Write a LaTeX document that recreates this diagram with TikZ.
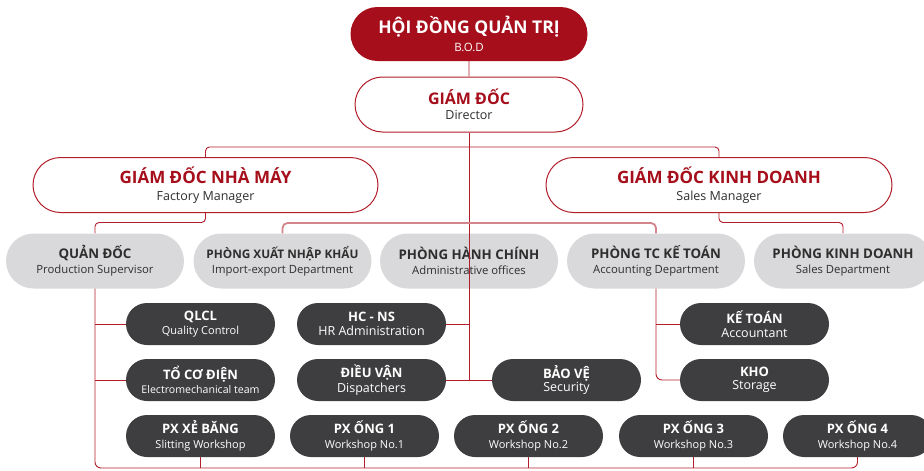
\documentclass[tikz,border=0pt]{standalone}
\usepackage{fontspec}
\setmainfont{Open Sans}
\usetikzlibrary{shapes.misc}

\definecolor{bodred}{HTML}{A50E1A}
\definecolor{linered}{HTML}{B21F2B}
\definecolor{softred}{HTML}{D3858B}
\definecolor{deptgray}{HTML}{D9D9DB}
\definecolor{unitdark}{HTML}{3E3D3F}
\definecolor{inkgray}{HTML}{2E2E2E}

\newcommand{\twoline}[5]{{\fontsize{#1}{#1}\selectfont\bfseries #3}\\[#5]{\fontsize{#2}{#2}\selectfont #4}}

\tikzset{
  pill/.style={rounded rectangle, inner sep=0pt, align=center},
  bodbox/.style={pill, fill=bodred, text=white, minimum width=237pt, minimum height=54pt},
  mgrbox/.style={pill, draw=linered, line width=1pt, fill=white, text=inkgray, minimum height=55pt},
  deptbox/.style={pill, fill=deptgray, text=inkgray, minimum width=178pt, minimum height=55pt},
  unitbox/.style={pill, fill=unitdark, text=white, minimum width=149pt, minimum height=42pt},
  link/.style={draw=linered, line width=0.9pt},
  softlink/.style={draw=softred, line width=1.8pt}
}

\begin{document}
\begin{tikzpicture}[x=1pt, y=-1pt]
  \useasboundingbox (0,0) rectangle (924,471);

  % board and directors
  \node[bodbox] (bod) at (469,34) {\twoline{17.5}{11.5}{HỘI ĐỒNG QUẢN TRỊ}{B.O.D}{5.5pt}};
  \node[mgrbox, minimum width=228pt] (dir) at (469,104.5) {\twoline{16}{12.5}{\textcolor{bodred}{GIÁM ĐỐC}}{Director}{3pt}};
  \node[mgrbox, minimum width=345pt] (fm) at (205.5,185) {\twoline{17}{12.5}{\textcolor{bodred}{GIÁM ĐỐC NHÀ MÁY}}{Factory Manager}{5.5pt}};
  \node[mgrbox, minimum width=346pt] (sm) at (719,185) {\twoline{17}{12.5}{\textcolor{bodred}{GIÁM ĐỐC KINH DOANH}}{Sales Manager}{5.5pt}};

  % departments
  \node[deptbox] (qd) at (95,261) {\twoline{13.3}{11.3}{QUẢN ĐỐC}{Production Supervisor}{3pt}};
  \node[deptbox] (xnk) at (282.5,261) {\twoline{11.8}{11.3}{PHÒNG XUẤT NHẬP KHẨU}{Import-export Department}{3.5pt}};
  \node[deptbox] (hc) at (469,261) {\twoline{13.3}{11.3}{PHÒNG HÀNH CHÍNH}{Administrative offices}{3pt}};
  \node[deptbox] (tck) at (656,261) {\twoline{13.3}{11.3}{PHÒNG TC KẾ TOÁN}{Accounting Department}{3pt}};
  \node[deptbox] (kd) at (843,261) {\twoline{13.3}{11.3}{PHÒNG KINH DOANH}{Sales Department}{3pt}};

  % units
  \node[unitbox] (qlcl) at (200.5,324) {\twoline{13}{11}{QLCL}{Quality Control}{2.5pt}};
  \node[unitbox] (tcd) at (200.5,380) {\twoline{13}{10.6}{TỔ CƠ ĐIỆN}{Electromechanical team}{2.5pt}};
  \node[unitbox] (hcns) at (371.5,324) {\twoline{13}{12.5}{HC - NS}{HR Administration}{1.5pt}};
  \node[unitbox] (dv) at (371.5,380) {\twoline{13}{12.5}{ĐIỀU VẬN}{Dispatchers}{1.5pt}};
  \node[unitbox] (bv) at (566.5,380) {\twoline{13}{12.5}{BẢO VỆ}{Security}{1.5pt}};
  \node[unitbox] (kt) at (754.5,324) {\twoline{13}{12.5}{KẾ TOÁN}{Accountant}{1.5pt}};
  \node[unitbox] (kho) at (754.5,380) {\twoline{13}{12.5}{KHO}{Storage}{1.5pt}};

  % workshops
  \node[unitbox] (xb) at (200.5,436) {\twoline{13}{11}{PX XẺ BĂNG}{Slitting Workshop}{2.5pt}};
  \node[unitbox] (o1) at (364.5,436) {\twoline{13}{11}{PX ỐNG 1}{Workshop No.1}{2.5pt}};
  \node[unitbox] (o2) at (528.5,436) {\twoline{13}{11}{PX ỐNG 2}{Workshop No.2}{2.5pt}};
  \node[unitbox] (o3) at (693.5,436) {\twoline{13}{11}{PX ỐNG 3}{Workshop No.3}{2.5pt}};
  \node[unitbox] (o4) at (857.5,436) {\twoline{13}{11}{PX ỐNG 4}{Workshop No.4}{2.5pt}};

  \coordinate (topj) at (469,147);
  \coordinate (midj) at (469,223);
  \coordinate (botj) at (469,468);

  % connectors
  \draw[link] (bod) -- (dir);
  \draw[link] (dir.south) -- (dir.south |- dv.east);
  \draw[link, rounded corners=4pt] (fm.north) |- (topj) -| (sm.north);
  \draw[link, rounded corners=4pt] (fm.south) -- ++(0,9.5) -| (qd.north);
  \draw[link, rounded corners=4pt] (sm.south) -- ++(0,9.5) -| (kd.north);
  \draw[softlink, rounded corners=5pt] (xnk.north) |- (midj) -| (tck.north);
  \draw[link, rounded corners=6pt] (qd.south) |- (botj) -| (o4.south);
  \foreach \w in {xb,o1,o2,o3}
    \draw[link] (\w.south) -- (\w.south |- botj);
  \draw[link] (qlcl.west) -- (qlcl.west -| qd.south);
  \draw[link] (tcd.west) -- (tcd.west -| qd.south);
  \draw[link] (hcns.east) -- (hcns.east -| dir.south);
  \draw[link] (dv.east) -- (bv.west);
  \draw[link, rounded corners=6pt] (tck.south) |- (kho.west);
  \draw[link] (kt.west) -- (kt.west -| tck.south);
\end{tikzpicture}
\end{document}
